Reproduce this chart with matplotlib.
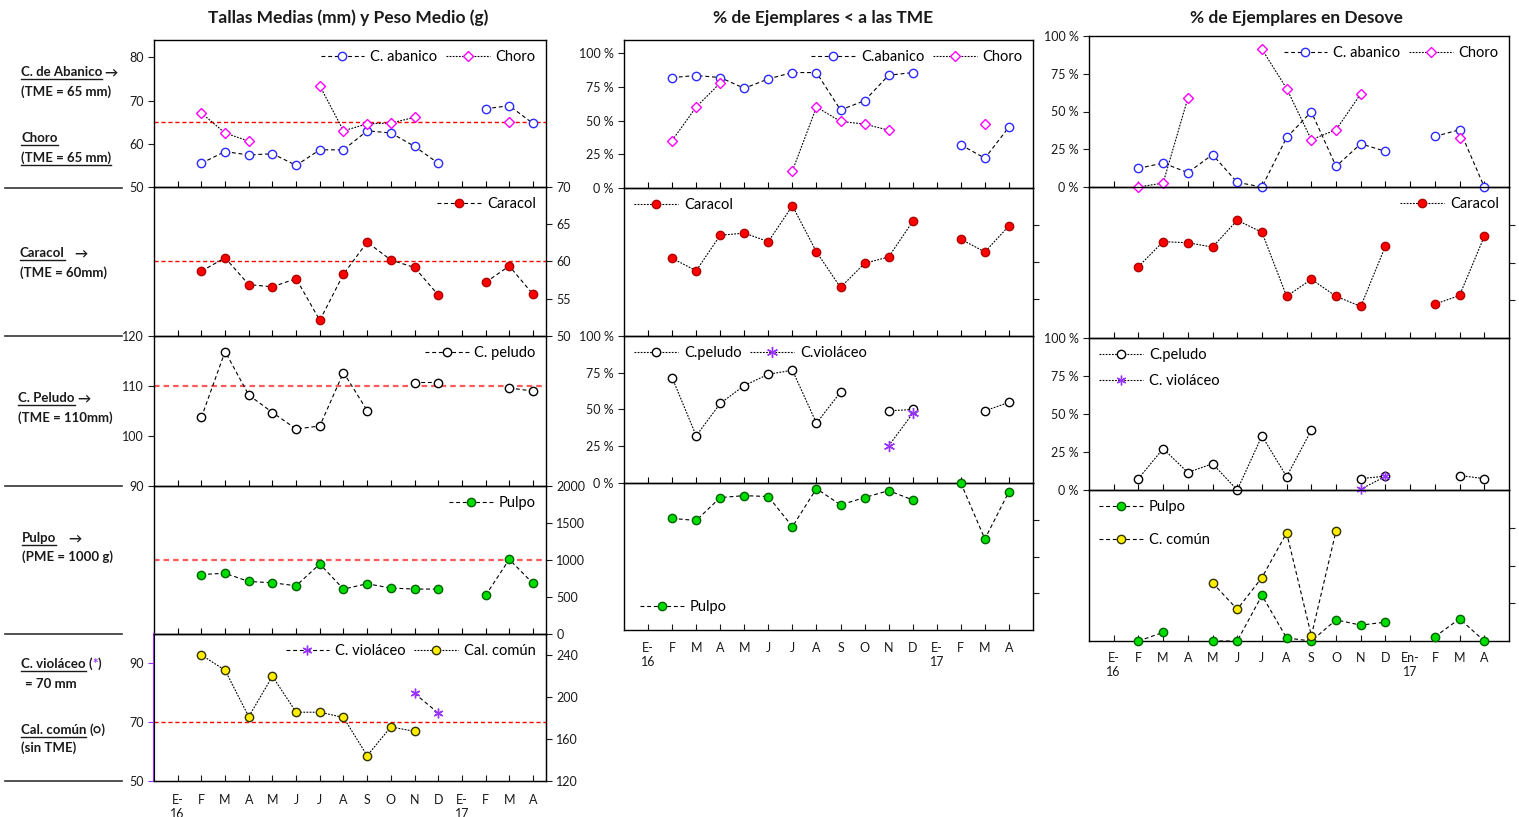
import numpy as np
import matplotlib
matplotlib.use('Agg')
import matplotlib.pyplot as plt
from matplotlib.lines import Line2D

plt.rcParams['font.family'] = ['Lato', 'DejaVu Sans']

nan = np.nan

# meses (E-16 ... A-17)
meses = ['E-\n16', 'F', 'M', 'A', 'M', 'J', 'J', 'A', 'S', 'O', 'N', 'D', 'E-\n17', 'F', 'M', 'A']
meses_der = ['E-\n16', 'F', 'M', 'A', 'M', 'J', 'J', 'A', 'S', 'O', 'N', 'D', 'En-\n17', 'F', 'M', 'A']

# Tallas medias (mm) y peso medio (g)
abanico_talla = [nan, 55.5, 58.2, 57.4, 57.7, 55.0, 58.6, 58.6, 63.0, 62.5, 59.4, 55.5, nan, 68.1, 68.8, 64.7]
choro_talla = [nan, 67.1, 62.5, 60.6, nan, nan, 73.4, 63.0, 64.6, 64.8, 66.1, nan, nan, nan, 65.1, nan]
caracol_talla = [nan, 58.7, 60.5, 56.9, 56.6, 57.7, 52.1, 58.3, 62.6, 60.2, 59.2, 55.5, nan, 57.2, 59.4, 55.6]
peludo_talla = [nan, 103.7, 116.9, 108.2, 104.7, 101.4, 102.0, 112.7, 105.1, nan, 110.7, 110.7, nan, nan, 109.6, 109.0]
pulpo_peso = [nan, 804, 821, 710, 692, 652, 946, 607, 679, 621, 607, 607, nan, 522, 1009, 683]
violaceo_talla = [nan] * 10 + [79.8, 73.1] + [nan] * 4
calcomun_talla = [nan, 240, 225.5, 181.3, 219.7, 185.5, 185.5, 180.5, 144.1, 171.5, 167.3, nan, nan, nan, nan, nan]

# % de ejemplares < TME
abanico_tme = [nan, 82.1, 83.6, 82.1, 74.1, 81.1, 85.8, 85.8, 58.0, 64.9, 83.8, 85.8, nan, 32.1, 22.1, 45.3]
choro_tme = [nan, 35.3, 60.2, 78.1, nan, nan, 12.7, 60.2, 49.5, 47.5, 43.0, nan, nan, nan, 47.8, nan]
caracol_tme = [nan, 52.5, 44.1, 68.1, 69.5, 63.8, 88.0, 56.8, 32.8, 49.1, 53.4, 77.4, nan, 65.4, 56.8, 74.4]
peludo_tme = [nan, 71.7, 32.1, 54.1, 66.3, 74.0, 76.7, 40.7, 61.8, nan, 49.1, 50.0, nan, nan, 49.1, 54.8]
violaceo_tme = [nan] * 10 + [25.3, 47.3] + [nan] * 4
pulpo_tme = [nan, 75.9, 74.5, 90.1, 91.4, 90.8, 70.3, 96.2, 85.1, 90.1, 94.8, 88.5, nan, 100, 61.9, 94.1]

# % de ejemplares en desove
abanico_desove = [nan, 12.3, 15.9, 9.5, 21.4, 3.1, 0, 32.8, 49.8, 13.7, 28.6, 23.6, nan, 33.5, 37.9, 0]
choro_desove = [nan, 0, 2.6, 58.8, nan, nan, 91.2, 65.2, 31.3, 37.9, 61.7, nan, nan, nan, 32.2, nan]
caracol_desove = [nan, 47.3, 63.8, 63.1, 60.2, 78.0, 70.0, 27.6, 38.9, 27.6, 20.9, 60.9, nan, 22.4, 28.2, 67.3]
peludo_desove = [nan, 7.5, 27.2, 11.5, 17.3, 0, 35.6, 8.8, 39.4, nan, 7.5, 9.1, nan, nan, 9.5, 7.5]
violaceo_desove = [nan] * 10 + [0.5, 9.0] + [nan] * 4
pulpo_desove = [nan, 0, 5.7, nan, 0, 0, 30.2, 2.0, 0, 14.0, 10.5, 12.5, nan, 2.8, 14.7, 0]
comun_desove = [nan, nan, nan, nan, 38.5, 21.0, 42.0, 71.6, 3.5, 72.9, nan, nan, nan, nan, nan, nan]

x = np.arange(len(meses))
W, H = 1519, 817
DASH = (0, (3.5, 2.5))
DOT = (0, (1.6, 1.2))
TXT = '#1a1a1a'

fig = plt.figure(figsize=(W / 100, H / 100), dpi=100)


def panel(x0, x1, y0, y1, xlim):
    ax = fig.add_axes([x0 / W, 1 - y1 / H, (x1 - x0) / W, (y1 - y0) / H])
    ax.set_facecolor('none')
    ax.set_xlim(*xlim)
    ax.set_xticks(x)
    ax.tick_params(axis='x', direction='in', length=4, labelbottom=False, width=0.8)
    ax.tick_params(axis='y', direction='out', length=4, labelsize=9, colors=TXT, width=0.8)
    for s in ax.spines.values():
        s.set_linewidth(1.0)
    return ax


def serie(ax, vals, marker, fc, ec, ls, label, ms=6, mew=1.0):
    ax.plot(x, vals, color='black', lw=0.8, ls=ls, marker=marker, ms=ms, mfc=fc, mec=ec,
            mew=mew, label=label, clip_on=False, zorder=5)


def leyenda(ax, loc, ncol=1, sp=0.9, **kw):
    ax.legend(loc=loc, ncol=ncol, frameon=False, fontsize=10.5, handlelength=3.0,
              handletextpad=0.4, columnspacing=0.6, borderaxespad=0.3, labelspacing=sp, **kw)


def tme(ax, v, color='#ff0000', lw=1.0, ls=(0, (3, 2))):
    ax.axhline(v, color=color, lw=lw, ls=ls, zorder=2)


def derecha(ax, ticks, labels=True):
    ax.yaxis.tick_right()
    ax.set_yticks(ticks)
    if not labels:
        ax.set_yticklabels([])


pct = lambda v: [f'{t} %' for t in v]

BLUE = '#2b2bff'
MAG = '#ff00ff'
RED = '#ff0000'
GREEN = '#00dd00'
YEL = '#ffee00'
PURP = '#9933ff'
STAR = (6, 2, 0)

# ---------------- columna izquierda ----------------
XL = (-1, 15.55)
a1 = panel(154, 546, 40, 187, XL)
a1.set_ylim(50, 84)
a1.set_yticks([50, 60, 70, 80])
tme(a1, 65)
serie(a1, abanico_talla, 'o', 'white', BLUE, DASH, 'C. abanico')
serie(a1, choro_talla, 'D', 'white', MAG, DOT, 'Choro', ms=5.3)
leyenda(a1, 'upper right', ncol=2)

a2 = panel(154, 546, 187, 336, XL)
a2.set_ylim(50, 70)
derecha(a2, [50, 55, 60, 65, 70])
tme(a2, 60)
serie(a2, caracol_talla, 'o', RED, '#b00000', DASH, 'Caracol')
leyenda(a2, 'upper right')

a3 = panel(154, 546, 336, 486, XL)
a3.set_ylim(90, 120)
a3.set_yticks([90, 100, 110, 120])
tme(a3, 110, color='#ff5a5a', lw=1.6, ls=(0, (2.5, 1.8)))
serie(a3, peludo_talla, 'o', 'white', 'black', DASH, 'C. peludo')
leyenda(a3, 'upper right')

a4 = panel(154, 546, 486, 634, XL)
a4.set_ylim(0, 2000)
derecha(a4, [0, 500, 1000, 1500, 2000])
tme(a4, 1000, color='#ff5a5a', lw=1.6, ls=(0, (2.5, 1.8)))
serie(a4, pulpo_peso, 'o', GREEN, '#006400', DASH, 'Pulpo')
leyenda(a4, 'upper right')

a5 = panel(154, 546, 634, 781, XL)
a5.set_ylim(50, 100)
a5.set_yticks([50, 70, 90])
a5.spines['left'].set_color(PURP)
a5.spines['left'].set_linewidth(1.5)
a5.tick_params(axis='y', color=PURP)
tme(a5, 70)
serie(a5, violaceo_talla, STAR, PURP, PURP, DASH, 'C. violáceo', ms=7)
a5b = a5.twinx()
a5b.set_ylim(120, 260)
a5b.set_yticks([120, 160, 200, 240])
a5b.tick_params(axis='y', direction='out', length=4, labelsize=9, colors=TXT)
serie(a5b, calcomun_talla, 'o', YEL, '#333300', DOT, 'Cal. común')
h1, l1 = a5.get_legend_handles_labels()
h2, l2 = a5b.get_legend_handles_labels()
a5b.legend(h1 + h2, l1 + l2, loc='upper right', ncol=2, frameon=False, fontsize=10.5,
           handlelength=3.0, handletextpad=0.4, columnspacing=0.6, borderaxespad=0.3)
a5.tick_params(axis='x', labelbottom=True, labelsize=9, pad=9, colors=TXT)
a5.set_xticklabels(meses)

# ---------------- columna central ----------------
XC = (-1, 16)
b1 = panel(624, 1033, 40, 188, XC)
b1.set_ylim(0, 110)
b1.set_yticks([0, 25, 50, 75, 100])
b1.set_yticklabels(pct([0, 25, 50, 75, 100]))
serie(b1, abanico_tme, 'o', 'white', BLUE, DASH, 'C.abanico')
serie(b1, choro_tme, 'D', 'white', MAG, DOT, 'Choro', ms=5.3)
leyenda(b1, 'upper right', ncol=2)

b2 = panel(624, 1033, 188, 336, XC)
b2.set_ylim(0, 100)
derecha(b2, [25, 50, 75], labels=False)
serie(b2, caracol_tme, 'o', RED, '#b00000', DOT, 'Caracol')
leyenda(b2, 'upper left')

b3 = panel(624, 1033, 336, 483, XC)
b3.set_ylim(0, 100)
b3.set_yticks([0, 25, 50, 75, 100])
b3.set_yticklabels(pct([0, 25, 50, 75, 100]))
serie(b3, peludo_tme, 'o', 'white', 'black', DOT, 'C.peludo')
serie(b3, violaceo_tme, STAR, PURP, PURP, DOT, 'C.violáceo', ms=8)
leyenda(b3, 'upper left', ncol=2)

b4 = panel(624, 1033, 483, 630, XC)
b4.set_ylim(0, 100)
derecha(b4, [25, 50, 75], labels=False)
serie(b4, pulpo_tme, 'o', GREEN, '#006400', DASH, 'Pulpo')
leyenda(b4, 'lower left', borderpad=0.8)
b4.tick_params(axis='x', labelbottom=True, labelsize=9, pad=9, colors=TXT)
b4.set_xticklabels(meses)

# ---------------- columna derecha ----------------
c1 = panel(1089, 1509, 36, 187, XC)
c1.set_ylim(0, 100)
c1.set_yticks([0, 25, 50, 75, 100])
c1.set_yticklabels(pct([0, 25, 50, 75, 100]))
serie(c1, abanico_desove, 'o', 'white', BLUE, DASH, 'C. abanico')
serie(c1, choro_desove, 'D', 'white', MAG, DOT, 'Choro', ms=5.3)
leyenda(c1, 'upper right', ncol=2)

c2 = panel(1089, 1509, 187, 338, XC)
c2.set_ylim(0, 100)
derecha(c2, [25, 50, 75], labels=False)
serie(c2, caracol_desove, 'o', RED, '#b00000', DOT, 'Caracol')
leyenda(c2, 'upper right')

c3 = panel(1089, 1509, 338, 490, XC)
c3.set_ylim(0, 100)
c3.set_yticks([0, 25, 50, 75, 100])
c3.set_yticklabels(pct([0, 25, 50, 75, 100]))
serie(c3, peludo_desove, 'o', 'white', 'black', DOT, 'C.peludo')
serie(c3, violaceo_desove, STAR, PURP, PURP, DOT, 'C. violáceo', ms=7)
leyenda(c3, 'upper left', sp=0.8)

c4 = panel(1089, 1509, 490, 641, XC)
c4.set_ylim(0, 100)
derecha(c4, [25, 50, 75], labels=False)
serie(c4, pulpo_desove, 'o', GREEN, '#006400', DASH, 'Pulpo')
serie(c4, comun_desove, 'o', YEL, '#333300', DASH, 'C. común')
leyenda(c4, 'upper left', sp=1.3)
c4.tick_params(axis='x', labelbottom=True, labelsize=9, pad=8, colors=TXT)
c4.set_xticklabels(meses_der)

# ---------------- títulos ----------------
for xc, t in [(348, 'Tallas Medias (mm) y Peso Medio (g)'),
              (823, '% de Ejemplares < a las TME'),
              (1296, '% de Ejemplares en Desove')]:
    fig.text(xc / W, 1 - 18 / H, t, ha='center', va='center', fontsize=12.5,
             fontweight='bold', color=TXT)

# ---------------- rótulos de la izquierda ----------------
rend = fig.canvas.get_renderer()


def rotulo(xpx, ypx, partes):
    cur = xpx
    for txt, col, sub, gap in partes:
        cur += gap
        t = fig.text(cur / W, 1 - ypx / H, txt, fontsize=9.5, fontweight='bold', color=col,
                     va='baseline', ha='left')
        bb = t.get_window_extent(rend)
        if sub:
            yl = (H - ypx - 2.5) / H
            fig.add_artist(Line2D([bb.x0 / W, bb.x1 / W], [yl, yl], color=col, lw=1.0))
        cur = bb.x1


K = TXT
rotulo(21, 76, [('C. de Abanico', K, True, 0), ('→', K, False, 2)])
rotulo(21, 96, [('(TME = 65 mm)', K, False, 0)])
rotulo(21, 142, [('Choro', K, True, 0)])
rotulo(21, 162, [('(TME = 65 mm)', K, True, 0)])
rotulo(20, 257, [('Caracol', K, True, 0), ('→', K, False, 10)])
rotulo(20, 277, [('(TME = 60mm)', K, False, 0)])
rotulo(18, 402, [('C. Peludo', K, True, 0), ('→', K, False, 3)])
rotulo(18, 422, [('(TME = 110mm)', K, False, 0)])
rotulo(22, 542, [('Pulpo', K, True, 0), ('→', K, False, 12)])
rotulo(22, 561, [('(PME = 1000 g)', K, False, 0)])
rotulo(21, 668, [('C. violáceo', K, True, 0), ('(', K, False, 3), ('*', PURP, False, 0), (')', K, False, 0)])
rotulo(25, 688, [('= 70 mm', K, False, 0)])
rotulo(21, 734, [('Cal. común', K, True, 0), ('(○)', K, False, 3)])
rotulo(21, 752, [('(sin TME)', K, False, 0)])

for yy in [188, 336, 486, 634, 781]:
    fig.add_artist(Line2D([5 / W, 122 / W], [1 - yy / H] * 2, color='#333333', lw=1.2))

fig.savefig('out.png', dpi=100)
